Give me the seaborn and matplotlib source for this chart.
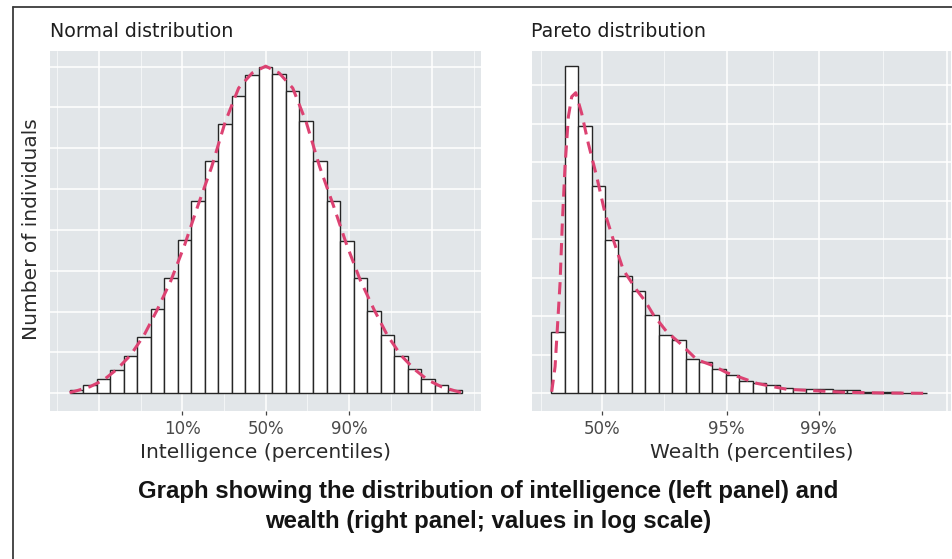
import numpy as np
import pandas as pd
import matplotlib.pyplot as plt
import seaborn as sns
from matplotlib.lines import Line2D

# ---- values ----
# left panel: intelligence, 29 bins in z-score units (bin width 0.208)
iq_counts = [20, 51, 86, 141, 231, 347, 515, 705, 936, 1175, 1420, 1648, 1820, 1948, 2000,
             1955, 1848, 1665, 1420, 1175, 930, 705, 502, 355, 231, 147, 86, 51, 20]
# dashed curve, sampled at the outer bin edges and at every bin centre
iq_curve = [4, 15, 40, 81, 147, 233, 355, 515, 692, 907, 1152, 1385, 1660, 1869, 1961, 2003,
            1961, 1869, 1660, 1385, 1152, 907, 692, 515, 355, 233, 147, 81, 40, 15, 4]
iq_ticks = [-1.2816, 0.0, 1.2816]
iq_tick_labels = ['10%', '50%', '90%']

# right panel: wealth (log scale), 28 bins, x in bin-width units
wealth_counts = [401, 2124, 1736, 1349, 996, 764, 666, 507, 379, 346, 225, 203, 156, 120,
                 81, 65, 52, 34, 26, 26, 31, 21, 19, 11, 10, 8, 5, 2]
wealth_curve_x = [0.03, 0.28, 0.65, 0.82, 1.02, 1.27, 1.52, 1.82, 2.26, 2.75, 3.38, 4.0,
                  4.62, 5.36, 6.36, 6.98, 7.6, 8.59, 9.58, 10.83, 12.06, 13.06, 14.05,
                  15.29, 16.28, 17.53, 19.51, 22.0, 24.72, 27.95]
wealth_curve_y = [10, 173, 714, 1104, 1472, 1796, 1926, 1952, 1818, 1624, 1407, 1169,
                  996, 801, 670, 600, 510, 400, 325, 219, 179, 134, 104,
                  65, 47, 26, 17, 6, 2, 0]
wealth_ticks = [3.75, 13.06, 19.9]
wealth_tick_labels = ['50%', '95%', '99%']

W, H = 953, 559
PANEL = '#E2E6E9'
RED = '#DC4272'

sns.set_style('white')
plt.rcParams['font.family'] = ['DejaVu Sans']

fig = plt.figure(figsize=(W / 100, H / 100), dpi=100)


def px_axes(x0, y0, x1, y1):
    return fig.add_axes([x0 / W, 1 - y1 / H, (x1 - x0) / W, (y1 - y0) / H])


def style_panel(ax, major, minor, ticks, labels):
    ax.set_facecolor(PANEL)
    for s in ax.spines.values():
        s.set_visible(False)
    for v in range(0, 2001, 250):
        ax.axhline(v, color='white', lw=1.1, zorder=0.5)
    for v in major:
        ax.axvline(v, color='white', lw=1.1, zorder=0.5)
    for v in minor:
        ax.axvline(v, color='white', lw=0.55, alpha=0.8, zorder=0.5)
    ax.set_yticks([])
    ax.set_xticks(ticks)
    ax.set_xticklabels(labels)
    ax.tick_params(axis='x', length=3, width=0.9, color='#444444', pad=3.5,
                   labelsize=12, labelcolor='#4A4A4A', bottom=True)
    ax.set(xlabel='', ylabel='')


# left panel
w_iq = 0.208
n_iq = len(iq_counts)
iq_centers = (np.arange(n_iq) - (n_iq - 1) / 2) * w_iq
iq_lo, iq_hi = iq_centers[0] - w_iq / 2, iq_centers[-1] + w_iq / 2
iq_curve_x = np.concatenate([[iq_lo], iq_centers, [iq_hi]])
iq_df = pd.DataFrame({'z': iq_centers, 'n': iq_counts})

ax1 = px_axes(50, 50.7, 480.7, 411)
sns.histplot(data=iq_df, x='z', weights='n', binwidth=w_iq, binrange=(iq_lo, iq_hi), ax=ax1,
             color='white', edgecolor='#262626', linewidth=1.0, alpha=1, zorder=2)
sns.lineplot(x=iq_curve_x, y=iq_curve, ax=ax1, color=RED, lw=2.2, zorder=3)
ax1.lines[-1].set_dashes((4, 2.4))
ax1.set_xlim(-3.318, 3.308)
ax1.set_ylim(-108.4, 2097.7)
style_panel(ax1, [-2.5632, -1.2816, 0, 1.2816, 2.5632],
            [-3.204, -1.9224, -0.6408, 0.6408, 1.9224, 3.204], iq_ticks, iq_tick_labels)

# right panel
n_w = len(wealth_counts)
wealth_df = pd.DataFrame({'u': np.arange(n_w) + 0.5, 'n': wealth_counts})

ax2 = px_axes(531.7, 50.7, 951, 411)
sns.histplot(data=wealth_df, x='u', weights='n', binwidth=1, binrange=(0, n_w), ax=ax2,
             color='white', edgecolor='#262626', linewidth=1.0, alpha=1, zorder=2)
sns.lineplot(x=wealth_curve_x, y=wealth_curve_y, ax=ax2, color=RED, lw=2.2, zorder=3)
ax2.lines[-1].set_dashes((4, 2.4))
ax2.set_xlim(-1.46, 29.76)
ax2.set_ylim(-114.9, 2224.8)
style_panel(ax2, [3.75, 13.06, 19.9, 29.44], [-0.77, 8.4, 16.48, 24.67],
            wealth_ticks, wealth_tick_labels)


# texts, placed by pixel baseline
def ftext(x, y, s, **kw):
    return fig.text(x / W, 1 - y / H, s, va='baseline', **kw)


ftext(50, 37.3, 'Normal distribution', fontsize=13.7, color='#1E1E1E')
ftext(531, 37.3, 'Pareto distribution', fontsize=13.7, color='#1E1E1E')
ftext(265.8, 458, 'Intelligence (percentiles)', ha='center', fontsize=14.5, color='#2A2A2A')
ftext(752, 458, 'Wealth (percentiles)', ha='center', fontsize=14.5, color='#2A2A2A')
fig.text(36.7 / W, 1 - 229 / H, 'Number of individuals', rotation=90, rotation_mode='anchor',
         ha='center', va='baseline', fontsize=14.5, color='#2A2A2A')

ftext(488.2, 498.3, 'Graph showing the distribution of intelligence (left panel) and',
      ha='center', fontsize=17.3, fontweight='bold', family='Liberation Sans', color='#141414')
ftext(488.2, 528.3, 'wealth (right panel; values in log scale)',
      ha='center', fontsize=17.3, fontweight='bold', family='Liberation Sans', color='#141414')

# outer frame (left and top edges visible)
fig.add_artist(Line2D([13 / W, 13 / W], [0, 1 - 7 / H], color='#3A3A3A', lw=1.3))
fig.add_artist(Line2D([13 / W, 1], [1 - 7 / H, 1 - 7 / H], color='#3A3A3A', lw=1.3))

fig.savefig('out.png', dpi=100)
